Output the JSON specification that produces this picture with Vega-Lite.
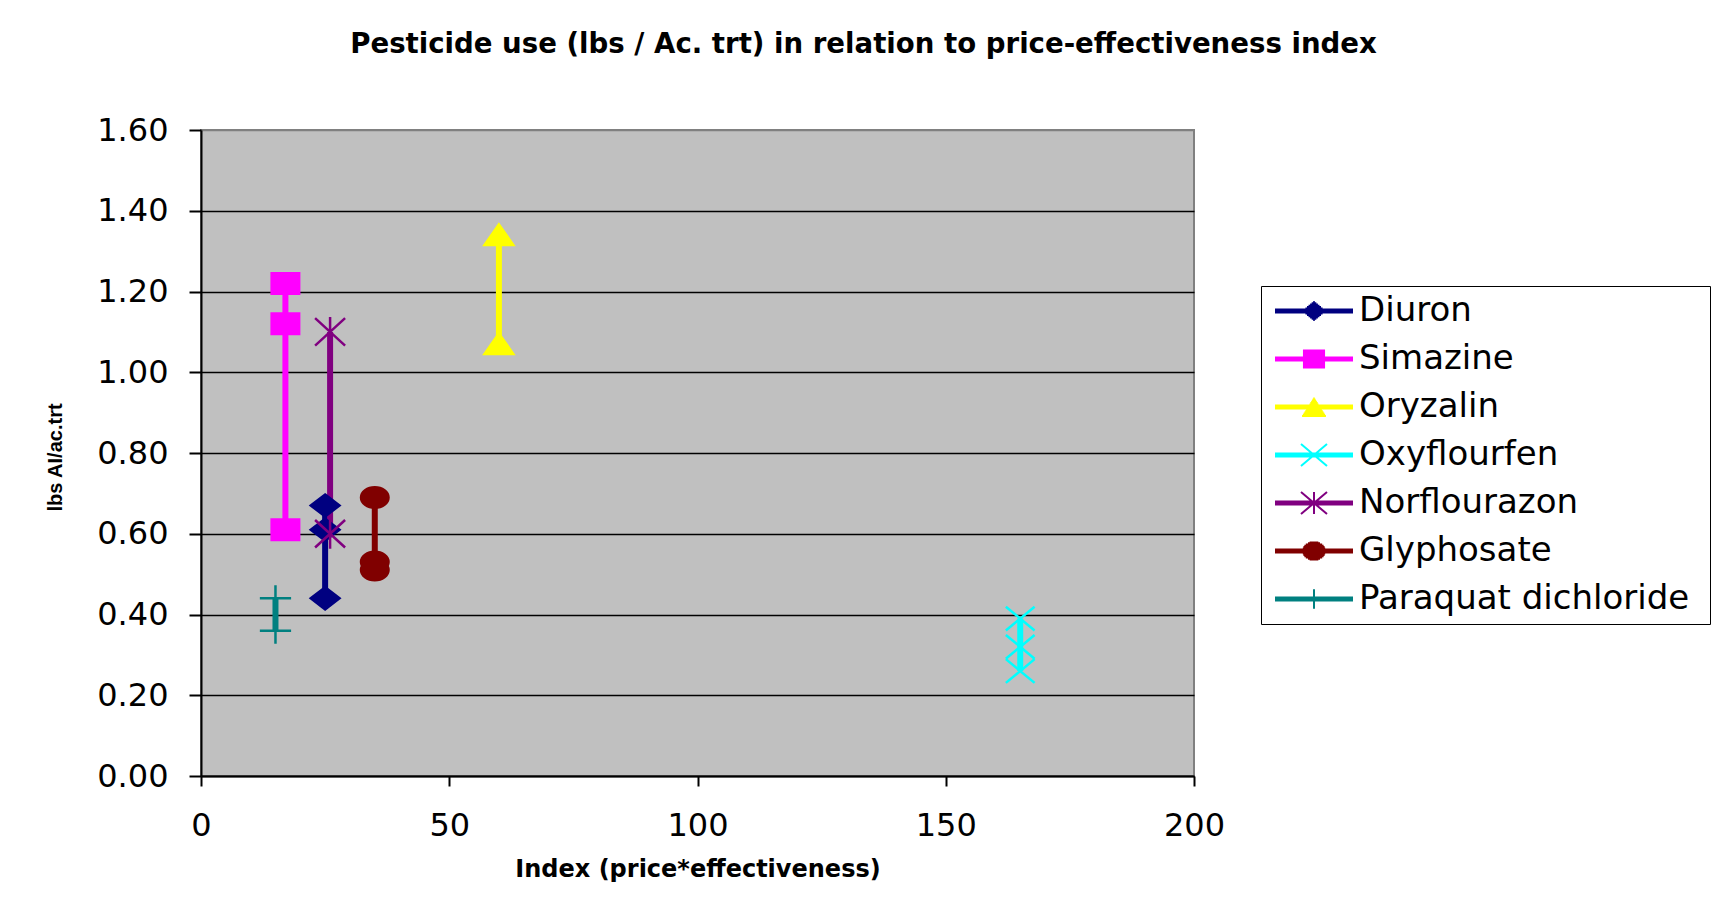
{
  "$schema": "https://vega.github.io/schema/vega-lite/v6.json",
  "width": 993,
  "height": 646,
  "autosize": {"type": "none"},
  "padding": {"left": 201, "top": 130, "right": 521, "bottom": 131},
  "background": "white",
  "title": {
    "text": "Pesticide use (lbs / Ac. trt)  in relation to price-effectiveness index",
    "font": "DejaVu Sans",
    "fontSize": 27.6,
    "fontWeight": "bold",
    "color": "black",
    "anchor": "middle",
    "dx": 166,
    "offset": 55
  },
  "config": {
    "view": {"fill": "#C0C0C0", "stroke": "#808080", "strokeWidth": 2},
    "axis": {
      "labelFont": "DejaVu Sans",
      "labelFontSize": 32,
      "labelColor": "black",
      "domainColor": "black",
      "domainWidth": 2,
      "tickColor": "black",
      "tickWidth": 2,
      "labelFlush": false,
      "labelOverlap": false,
      "titleColor": "black",
      "titleFontWeight": "bold"
    }
  },
  "resolve": {
    "scale": {"color": "independent", "stroke": "independent", "shape": "independent"}
  },
  "data": {
    "values": [
      {"Pesticide": "Diuron", "Index": 25, "Use": 0.67},
      {"Pesticide": "Diuron", "Index": 25, "Use": 0.61},
      {"Pesticide": "Diuron", "Index": 25, "Use": 0.44},
      {"Pesticide": "Simazine", "Index": 17, "Use": 1.22},
      {"Pesticide": "Simazine", "Index": 17, "Use": 1.12},
      {"Pesticide": "Simazine", "Index": 17, "Use": 0.61},
      {"Pesticide": "Oryzalin", "Index": 60, "Use": 1.34},
      {"Pesticide": "Oryzalin", "Index": 60, "Use": 1.07},
      {"Pesticide": "Oxyflourfen", "Index": 165, "Use": 0.39},
      {"Pesticide": "Oxyflourfen", "Index": 165, "Use": 0.32},
      {"Pesticide": "Oxyflourfen", "Index": 165, "Use": 0.26},
      {"Pesticide": "Norflourazon", "Index": 26, "Use": 1.1},
      {"Pesticide": "Norflourazon", "Index": 26, "Use": 0.6},
      {"Pesticide": "Glyphosate", "Index": 35, "Use": 0.69},
      {"Pesticide": "Glyphosate", "Index": 35, "Use": 0.53},
      {"Pesticide": "Glyphosate", "Index": 35, "Use": 0.51},
      {"Pesticide": "Paraquat dichloride", "Index": 15, "Use": 0.44},
      {"Pesticide": "Paraquat dichloride", "Index": 15, "Use": 0.36}
    ]
  },
  "encoding": {
    "x": {
      "field": "Index",
      "type": "quantitative",
      "scale": {"domain": [0, 200], "nice": false},
      "axis": {
        "title": "Index (price*effectiveness)",
        "values": [0, 50, 100, 150, 200],
        "grid": false,
        "tickSize": 10,
        "labelPadding": 24,
        "titleFont": "DejaVu Sans",
        "titleFontSize": 24,
        "titleY": 81
      }
    },
    "y": {
      "field": "Use",
      "type": "quantitative",
      "scale": {"domain": [0, 1.6], "nice": false},
      "axis": {
        "title": "lbs AI/ac.trt",
        "values": [0, 0.2, 0.4, 0.6, 0.8, 1.0, 1.2, 1.4, 1.6],
        "format": ".2f",
        "grid": true,
        "gridColor": {"condition": {"test": "datum.value >= 1.59", "value": "#808080"}, "value": "black"},
        "gridWidth": 1.5,
        "tickSize": 12,
        "labelPadding": 21,
        "titleFont": "Liberation Sans",
        "titleFontSize": 20,
        "titleX": -136,
        "titleY": 327
      }
    }
  },
  "layer": [
    {
      "mark": {"type": "line", "strokeWidth": 6},
      "encoding": {
        "color": {
          "field": "Pesticide",
          "type": "nominal",
          "scale": {
            "domain": ["Diuron", "Simazine", "Oryzalin", "Oxyflourfen", "Norflourazon", "Glyphosate", "Paraquat dichloride"],
            "range": ["#000080", "#FF00FF", "#FFFF00", "#00FFFF", "#800080", "#800000", "#008080"]
          },
          "legend": null
        }
      }
    },
    {
      "mark": {"type": "point", "filled": true, "strokeWidth": 2.5, "size": 625, "opacity": 1},
      "encoding": {
        "color": {
          "field": "Pesticide",
          "type": "nominal",
          "scale": {
            "domain": ["Diuron", "Simazine", "Oryzalin", "Oxyflourfen", "Norflourazon", "Glyphosate", "Paraquat dichloride"],
            "range": ["#000080", "#FF00FF", "#FFFF00", "#00FFFF", "#800080", "#800000", "#008080"]
          },
          "legend": null
        },
        "stroke": {
          "field": "Pesticide",
          "type": "nominal",
          "scale": {
            "domain": ["Diuron", "Simazine", "Oryzalin", "Oxyflourfen", "Norflourazon", "Glyphosate", "Paraquat dichloride"],
            "range": ["#000080", "#FF00FF", "#FFFF00", "#00FFFF", "#800080", "#800000", "#008080"]
          },
          "legend": null
        },
        "shape": {
          "field": "Pesticide",
          "type": "nominal",
          "scale": {
            "domain": ["Diuron", "Simazine", "Oryzalin", "Oxyflourfen", "Norflourazon", "Glyphosate", "Paraquat dichloride"],
            "range": [
              "M0,-0.88L1.15,0L0,0.88L-1.15,0Z",
              "M-1.1,-0.82H1.1V0.82H-1.1Z",
              "M0,-0.85L1.15,0.8H-1.15Z",
              "M-1.15,-0.95L1.15,0.95M1.15,-0.95L-1.15,0.95",
              "M-1.2,-1.1L1.2,1.1M1.2,-1.1L-1.2,1.1M0,-1.2V1.2",
              "M-1.1,0A1.1,0.82,0,1,0,1.1,0A1.1,0.82,0,1,0,-1.1,0Z",
              "M-1.25,0H1.25M0,-1.05V1.05"
            ]
          },
          "legend": null
        }
      }
    },
    {
      "mark": {"type": "point", "filled": true, "strokeWidth": 2, "size": 676, "opacity": 0},
      "encoding": {
        "color": {
          "field": "Pesticide",
          "type": "nominal",
          "scale": {
            "domain": ["Diuron", "Simazine", "Oryzalin", "Oxyflourfen", "Norflourazon", "Glyphosate", "Paraquat dichloride"],
            "range": ["#000080", "#FF00FF", "#FFFF00", "#00FFFF", "#800080", "#800000", "#008080"]
          },
          "legend": {
            "title": null,
            "orient": "none",
            "legendX": 1060,
            "legendY": 156,
            "padding": 8,
            "strokeColor": "black",
            "fillColor": "white",
            "labelFont": "DejaVu Sans",
            "labelFontSize": 34,
            "labelColor": "black",
            "labelLimit": 600,
            "rowPadding": 14,
            "symbolSize": 676,
            "symbolOffset": 28,
            "labelOffset": 28,
            "symbolStrokeWidth": 2,
            "symbolOpacity": 1
          }
        },
        "stroke": {
          "field": "Pesticide",
          "type": "nominal",
          "scale": {
            "domain": ["Diuron", "Simazine", "Oryzalin", "Oxyflourfen", "Norflourazon", "Glyphosate", "Paraquat dichloride"],
            "range": ["#000080", "#FF00FF", "#FFFF00", "#00FFFF", "#800080", "#800000", "#008080"]
          }
        },
        "shape": {
          "field": "Pesticide",
          "type": "nominal",
          "scale": {
            "domain": ["Diuron", "Simazine", "Oryzalin", "Oxyflourfen", "Norflourazon", "Glyphosate", "Paraquat dichloride"],
            "range": [
              "M-0.06,-0.7H0.06M-0.18,-0.6H0.18M-0.3,-0.5H0.3M-0.42,-0.4H0.42M-0.54,-0.3H0.54M-0.66,-0.2H0.66M-0.78,-0.1H0.78M-0.9,0H0.9M-0.78,0.1H0.78M-0.66,0.2H0.66M-0.54,0.3H0.54M-0.42,0.4H0.42M-0.3,0.5H0.3M-0.18,0.6H0.18M-0.06,0.7H0.06M-3,-0.12H3M-3,-0.04H3M-3,0.04H3M-3,0.12H3M29.5,0",
              "M-0.85,-0.66H0.85M-0.85,-0.54H0.85M-0.85,-0.42H0.85M-0.85,-0.3H0.85M-0.85,-0.18H0.85M-0.85,-0.06H0.85M-0.85,0.06H0.85M-0.85,0.18H0.85M-0.85,0.3H0.85M-0.85,0.42H0.85M-0.85,0.54H0.85M-0.85,0.66H0.85M-3,-0.12H3M-3,-0.04H3M-3,0.04H3M-3,0.12H3M29.5,0",
              "M-0.032,-0.7H0.032M-0.095,-0.6H0.095M-0.158,-0.5H0.158M-0.222,-0.4H0.222M-0.285,-0.3H0.285M-0.348,-0.2H0.348M-0.412,-0.1H0.412M-0.475,0H0.475M-0.538,0.1H0.538M-0.602,0.2H0.602M-0.665,0.3H0.665M-0.728,0.4H0.728M-0.792,0.5H0.792M-0.855,0.6H0.855M-0.918,0.7H0.918M-3,-0.12H3M-3,-0.04H3M-3,0.04H3M-3,0.12H3M29.5,0",
              "M-1,-0.85L1,0.85M1,-0.85L-1,0.85M-3,-0.12H3M-3,-0.04H3M-3,0.04H3M-3,0.12H3M29.5,0",
              "M-1,-0.85L1,0.85M1,-0.85L-1,0.85M0,-0.85V0.85M-3,-0.12H3M-3,-0.04H3M-3,0.04H3M-3,0.12H3M29.5,0",
              "M-0.334,-0.65H0.334M-0.464,-0.6H0.464M-0.63,-0.5H0.63M-0.739,-0.4H0.739M-0.813,-0.3H0.813M-0.862,-0.2H0.862M-0.891,-0.1H0.891M-0.9,0H0.9M-0.891,0.1H0.891M-0.862,0.2H0.862M-0.813,0.3H0.813M-0.739,0.4H0.739M-0.63,0.5H0.63M-0.464,0.6H0.464M-0.334,0.65H0.334M-3,-0.12H3M-3,-0.04H3M-3,0.04H3M-3,0.12H3M29.5,0",
              "M0,-0.75V0.75M-3,-0.12H3M-3,-0.04H3M-3,0.04H3M-3,0.12H3M29.5,0"
            ]
          }
        }
      }
    }
  ]
}
